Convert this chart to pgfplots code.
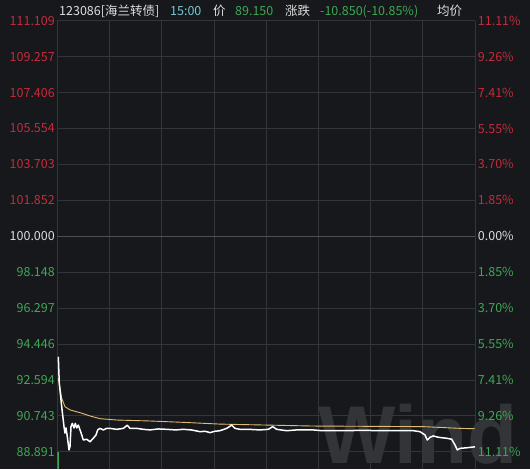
\documentclass[border=0pt]{standalone}
\usepackage{pgfplots}
\pgfplotsset{compat=1.18}
\usepackage{fontspec}
\setmainfont{Noto Sans CJK SC}
\newfontfamily\wmfont{Liberation Sans}
\definecolor{bg}{RGB}{22,24,28}
\definecolor{gridc}{RGB}{50,53,58}
\definecolor{gridb}{RGB}{78,80,84}
\definecolor{wred}{RGB}{196,44,58}
\definecolor{wgreen}{RGB}{62,168,84}
\definecolor{wwhite}{RGB}{222,222,222}
\definecolor{wcyan}{RGB}{120,200,212}
\definecolor{wyellow}{RGB}{226,188,112}
\definecolor{wm}{RGB}{50,52,56}

\pgfplotstableread{
m p
0.57 93.79
1.15 92.42
2.53 91.22
3.85 90.19
4.42 89.86
5.00 90.12
5.75 89.67
6.72 88.99
7.30 89.16
7.87 90.19
8.62 90.36
9.60 90.12
10.34 90.36
11.15 90.12
12.07 90.27
13.05 90.02
14.36 89.67
14.94 89.50
16.89 89.54
18.79 89.41
20.68 89.59
22.24 89.76
23.21 90.02
24.53 90.10
26.43 90.02
28.38 90.10
30.28 90.10
34.13 90.05
37.92 90.10
40.22 90.26
41.77 90.10
45.62 90.10
49.41 90.05
53.26 90.02
58.00 90.07
62.86 90.05
68.00 90.02
72.40 90.05
77.00 90.02
81.99 89.93
85.00 89.95
87.74 89.88
90.50 89.95
93.49 89.98
97.34 90.10
100.21 90.27
102.10 90.10
104.98 90.05
110.00 90.05
116.47 90.02
121.24 90.05
123.77 90.19
126.06 90.05
131.81 89.98
137.56 90.02
147.09 90.02
152.00 89.98
156.69 89.98
166.28 89.98
175.00 90.00
185.42 89.98
195.00 89.98
204.55 89.98
208.40 89.93
211.27 89.76
212.60 89.50
214.15 89.64
216.04 89.71
218.92 89.64
223.74 89.59
226.62 89.54
228.51 89.24
229.83 88.99
231.38 89.07
235.23 89.10
240.00 89.15
}\pricedata

\pgfplotstableread{
m p
0.57 92.68
2.53 91.65
4.42 91.22
7.30 91.05
13.05 90.91
18.79 90.74
24.53 90.60
34.13 90.53
53.26 90.48
72.40 90.41
93.49 90.32
120.32 90.27
147.09 90.22
210.30 90.19
231.38 90.10
240.00 90.08
}\avgdata

\begin{document}
\begin{tikzpicture}[x=1pt,y=1pt]
\path[use as bounding box, fill=bg] (0,0) rectangle (530,469);
\node[anchor=base, text=wm, font=\wmfont\bfseries\fontsize{82}{82}\selectfont, inner sep=0pt] at (418,6) {Wind};

\begin{axis}[
  at={(57.3pt,0pt)}, anchor=south west,
  scale only axis, width=417.7pt, height=448.3pt,
  xmin=0, xmax=240, ymin=88.006, ymax=111.109,
  axis line style={draw=none},
  major tick length=0pt,
  xtick={0,30,...,240}, xticklabels={},
  ytick={88.891,90.743,92.594,94.446,96.297,98.148,101.852,103.703,105.554,107.406,109.257,111.109},
  yticklabels={\textcolor{wgreen}{88.891},\textcolor{wgreen}{90.743},\textcolor{wgreen}{92.594},\textcolor{wgreen}{94.446},\textcolor{wgreen}{96.297},\textcolor{wgreen}{98.148},\textcolor{wred}{101.852},\textcolor{wred}{103.703},\textcolor{wred}{105.554},\textcolor{wred}{107.406},\textcolor{wred}{109.257},\textcolor{wred}{111.109}},
  extra y ticks={100},
  extra y tick labels={\textcolor{wwhite}{100.000}},
  extra y tick style={major grid style={gridb, line width=0.9pt}},
  yticklabel style={font=\fontsize{12.5}{14}\selectfont, inner sep=0pt, anchor=east, xshift=-2.3pt},
  grid=major,
  major grid style={gridc, line width=0.8pt},
]
\addplot[wgreen, line width=1.6pt] coordinates {(0.45,88.87) (0.45,88.0)};
\addplot[wyellow, line width=0.9pt] table[x=m,y=p] {\avgdata};
\addplot[white, line width=1.5pt, line join=round] table[x=m,y=p] {\pricedata};
\end{axis}

\begin{axis}[
  at={(57.3pt,0pt)}, anchor=south west,
  scale only axis, width=417.7pt, height=448.3pt,
  xmin=0, xmax=240, ymin=88.006, ymax=111.109,
  axis line style={draw=none},
  major tick length=0pt,
  xtick=\empty,
  ytick pos=right,
  ytick={88.891,90.743,92.594,94.446,96.297,98.148,100,101.852,103.703,105.554,107.406,109.257,111.109},
  yticklabels={\textcolor{wgreen}{11.11\%},\textcolor{wgreen}{9.26\%},\textcolor{wgreen}{7.41\%},\textcolor{wgreen}{5.55\%},\textcolor{wgreen}{3.70\%},\textcolor{wgreen}{1.85\%},\textcolor{wwhite}{0.00\%},\textcolor{wred}{1.85\%},\textcolor{wred}{3.70\%},\textcolor{wred}{5.55\%},\textcolor{wred}{7.41\%},\textcolor{wred}{9.26\%},\textcolor{wred}{11.11\%}},
  yticklabel style={font=\fontsize{12.5}{14}\selectfont, inner sep=0pt, anchor=west, xshift=2.7pt},
]
\addplot[draw=none] coordinates {(0,100)};
\end{axis}

\begin{scope}[font=\fontsize{12.5}{14}\selectfont]
\node[anchor=base west, inner sep=0pt, text=wwhite] at (59,453.5) {123086[海兰转债]};
\node[anchor=base west, inner sep=0pt, text=wcyan] at (170,453.5) {15:00};
\node[anchor=base west, inner sep=0pt, text=wwhite] at (213,453.5) {价};
\node[anchor=base west, inner sep=0pt, text=wgreen] at (235,453.5) {89.150};
\node[anchor=base west, inner sep=0pt, text=wwhite] at (285,453.5) {涨跌};
\node[anchor=base west, inner sep=0pt, text=wgreen] at (320,453.5) {-10.850(-10.85\%)};
\node[anchor=base west, inner sep=0pt, text=wwhite] at (437,453.5) {均价};
\end{scope}
\end{tikzpicture}
\end{document}
